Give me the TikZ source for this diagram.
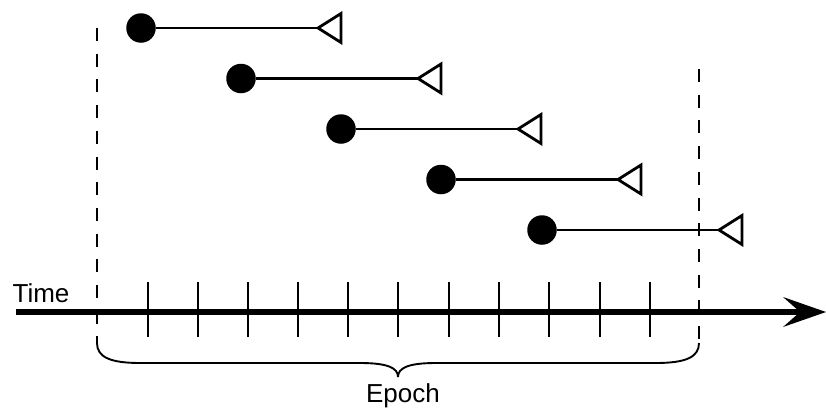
\documentclass[tikz,border=0pt]{standalone}
\usepackage{fontspec}
\setmainfont{Liberation Sans}
\usetikzlibrary{arrows.meta}
\tikzset{
  dot/.style={circle, fill=black, draw=none, minimum size=29.5pt, inner sep=0pt},
  seg/.style={line width=2.4pt},
  tri/.style={line width=2.8pt, fill=white, line join=miter},
  tick/.style={line width=2.3pt},
  bound/.style={line width=2.3pt, dash pattern=on 13pt off 12.7pt},
  axis/.style={line width=6pt, -{Stealth[length=43pt, width=30pt, inset=17pt, line width=0pt]}},
  brace/.style={line width=1.9pt},
  lbl/.style={inner sep=0pt, font=\fontsize{26}{31}\selectfont}
}
\begin{document}
\begin{tikzpicture}[x=1pt, y=-1pt]
\useasboundingbox (0,0) rectangle (826,407);
% epoch boundaries
\coordinate (lt) at (97,28);
\coordinate (lb) at (97,343);
\coordinate (rt) at (699,69);
\coordinate (rb) at (699,343);
\draw[bound] (lt) -- (lb);
\draw[bound] (rt) -- (rb);
% intervals
\foreach \i/\cx/\cy in {1/141/28, 2/241/78.5, 3/341/129, 4/441/179.5, 5/542/230}{
  \node[dot] (c\i) at (\cx,\cy) {};
  \coordinate (e\i) at (\cx+177,\cy);
  \draw[seg] (c\i) -- (e\i);
  \draw[tri] (e\i) -- ++(23,-14.5) -- ++(0,29) -- cycle;
}
% ticks
\foreach \k/\tx in {1/148,2/198,3/248,4/298,5/348,6/398,7/449,8/499,9/549,10/600,11/650}{
  \coordinate (ta\k) at (\tx,282);
  \coordinate (tb\k) at (\tx,337);
  \draw[tick] (ta\k) -- (tb\k);
}
% time axis
\coordinate (t0) at (16,312);
\coordinate (t1) at (826,312);
\draw[axis] (t0) -- (t1);
\node[lbl, anchor=base] (time) at (41,302) {Time};
% brace
\coordinate (bm) at (398,377);
\draw[brace] (lb) .. controls (97,357) and (110,363) .. (140,363) -- (360,363) .. controls (388,363) and (398,368) .. (bm);
\draw[brace] (rb) .. controls (699,357) and (686,363) .. (656,363) -- (436,363) .. controls (408,363) and (398,368) .. (bm);
\node[lbl, anchor=base] (epoch) at (403,402) {Epoch};
\end{tikzpicture}
\end{document}
